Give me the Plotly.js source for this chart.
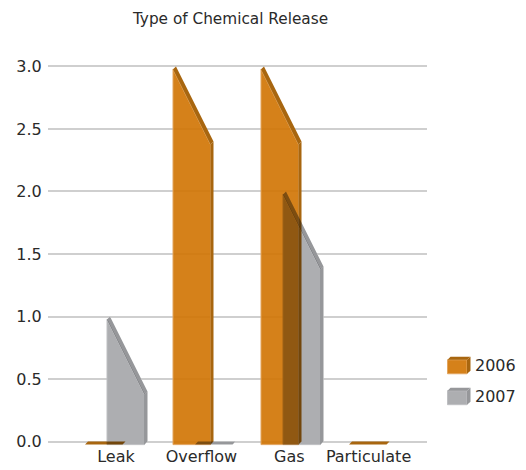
<!DOCTYPE html>
<html>
<head>
<meta charset="utf-8">
<script src="https://cdn.plot.ly/plotly-3.0.1.min.js"></script>
<style>html,body{margin:0;padding:0;background:#fff}</style>
</head>
<body>
<div id="chart" style="width:526px;height:470px"></div>
<script>
const categories = ["Leak", "Overflow", "Gas", "Particulate"];
const labelPositions = [0, 0.97, 1.97, 2.87];
const yTicks = [0, 0.5, 1, 1.5, 2, 2.5, 3];
const yTickLabels = ["0.0", "0.5", "1.0", "1.5", "2.0", "2.5", "3.0"];
const series2006Start = [0, 3, 3, 0];
const series2006End = [0, 2.4, 2.4, 0];
const series2007Start = [1, 0, 2, null];
const series2007End = [0.4, 0, 1.4, null];
const seriesNames = ["2006", "2007"];

const W = 526, H = 470, L = 48, R = 427, T = 66, B = 442;
const pad = 0.035;
const pxX = 88, pxY = (B - T) / 3;
const plotT = T - pad * pxY, plotB = B + pad * pxY;
const barW = 37.5 / pxX, dX = 3 / pxX, dY = 3 / pxY;
const off2006 = -31 / pxX, off2007 = -9 / pxX;
const FONT = '"DejaVu Sans", sans-serif', INK = '#2a2a2a';

function polys(starts, ends, off) {
  const f = {x: [], y: []}, s = {x: [], y: []}, t = {x: [], y: []};
  const add = (o, xs, ys) => { o.x.push(...xs, null); o.y.push(...ys, null); };
  starts.forEach((a, i) => {
    const b = ends[i];
    if (a === null) return;
    const x0 = i + off, x1 = x0 + barW;
    if (a > 0) {
      add(f, [x0, x1, x1, x0, x0], [-dY, -dY, b - dY, a - dY, -dY]);
      add(s, [x1, x1 + dX, x1 + dX, x1, x1], [-dY, 0, b, b - dY, -dY]);
    }
    add(t, [x0, x0 + dX, x1 + dX, x1, x0], [a - dY, a, b, b - dY, a - dY]);
  });
  return {f, s, t};
}
function poly(o, fill, line, cls) {
  return {type: 'scatter', mode: 'lines', x: o.x, y: o.y, fill: 'toself', fillcolor: fill,
    line: {color: line, width: line === fill ? 0 : 1}, hoverinfo: 'skip', showlegend: false,
    connectgaps: false, name: cls};
}
const a = polys(series2006Start, series2006End, off2006);
const b = polys(series2007Start, series2007End, off2007);
const ORANGE = 'rgb(213,129,26)', ODARK = 'rgb(168,102,15)', OEDGE = 'rgb(226,165,95)';
const GRAY = 'rgb(173,174,177)', GDARK = 'rgb(150,151,154)', GEDGE = 'rgb(190,191,194)';
const knockout = {x: [...b.f.x, ...b.s.x, ...b.t.x], y: [...b.f.y, ...b.s.y, ...b.t.y]};
const data = [
  poly(knockout, '#ffffff', '#ffffff', seriesNames[1]),
  poly(a.f, 'rgba(208,115,1,0.9)', OEDGE, seriesNames[0]),
  poly(a.s, ODARK, ODARK, seriesNames[0]),
  poly(a.t, ODARK, ODARK, seriesNames[0]),
  poly(b.f, GRAY, GEDGE, seriesNames[1]),
  poly(b.s, GDARK, GDARK, seriesNames[1]),
  poly(b.t, GDARK, GDARK, seriesNames[1])
];

const px = v => (v - L) / (R - L), py = v => (plotB - v) / (plotB - plotT);
function swatch(top, front, side, topCol, edge) {
  const x0 = px(447.5), x1 = px(467), x2 = px(470.5);
  const y0 = py(top + 3), y1 = py(top + 17), yt = py(top);
  const mk = (pts, col, ln) => ({type: 'path', xref: 'paper', yref: 'paper', fillcolor: col,
    line: {color: ln || col, width: ln ? 1 : 0},
    path: 'M' + pts.map(p => p.join(',')).join('L') + 'Z'});
  return [
    mk([[x0, y0], [x1, y0], [x1, y1], [x0, y1]], front, edge),
    mk([[x0, y0], [px(450.5), yt], [x2, yt], [x1, y0]], topCol),
    mk([[x1, y0], [x2, yt], [x2, py(top + 14)], [x1, y1]], side)
  ];
}
const shapes = [
  ...swatch(357, ORANGE, ODARK, ODARK, OEDGE),
  ...swatch(388, GRAY, GDARK, GDARK, GEDGE)
];
const legendText = [[seriesNames[0], 365.5], [seriesNames[1], 397]].map(([t, y]) => ({
  text: t, xref: 'paper', yref: 'paper', x: px(473.5), y: py(y), xanchor: 'left', yanchor: 'middle',
  showarrow: false, font: {family: FONT, size: 16, color: INK}
}));

const layout = {
  width: W, height: H,
  margin: {l: L, r: W - R, t: plotT, b: H - plotB, pad: 0},
  paper_bgcolor: '#fff', plot_bgcolor: 'rgba(0,0,0,0)',
  showlegend: false,
  title: {text: 'Type of Chemical Release', x: 230.5 / W, xanchor: 'center', y: 1 - 19 / H, yanchor: 'middle',
    font: {family: FONT, size: 15.3, color: INK}},
  xaxis: {range: [(L - 116) / pxX, (R - 116) / pxX], tickmode: 'array', tickvals: labelPositions, ticktext: categories,
    showgrid: false, zeroline: false, showline: false, ticks: '', ticklabelstandoff: -1, fixedrange: true,
    tickfont: {family: FONT, size: 16, color: INK}},
  yaxis: {range: [-pad, 3 + pad], tickmode: 'array', tickvals: yTicks, ticktext: yTickLabels,
    showgrid: true, gridcolor: '#cfcfcf', gridwidth: 2, zeroline: false, showline: false, ticks: 'outside', ticklen: 2, tickcolor: 'rgba(0,0,0,0)', fixedrange: true,
    tickfont: {family: FONT, size: 16, color: INK}},
  shapes, annotations: legendText
};
Plotly.newPlot('chart', data, layout, {displayModeBar: false, staticPlot: true}).then(gd => {
  gd.querySelectorAll('.scatterlayer .trace').forEach((el, i) => {
    if (i >= 4) el.style.mixBlendMode = 'multiply';
  });
});
</script>
</body>
</html>
